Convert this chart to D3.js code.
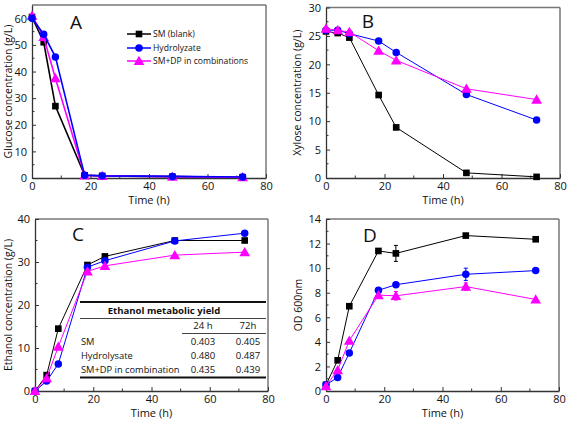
<!DOCTYPE html>
<html><head><meta charset="utf-8">
<script src="https://cdn.jsdelivr.net/npm/d3@7"></script>
<style>body{margin:0;background:#fff}svg{display:block}text{font-family:"Open Sans",sans-serif;fill:#111}</style>
</head><body><svg id="c" width="567" height="424"></svg>
<script>
const times = [0,4,8,18,24,48,72];
const seriesNames = ["SM (blank)","Hydrolyzate","SM+DP in combinations"];
const glucoseSM  = [60.5,51,27,1,0.8,0.5,0.3];
const glucoseHyd = [60,54,45.5,1,0.8,0.6,0.4];
const glucoseDP  = [61,53,37.5,1,0.8,0.5,0.3];
const xyloseSM  = [25.8,25.5,24.7,14.6,8.9,0.9,0.2];
const xyloseHyd = [26,26,25.4,24.1,22.1,14.7,10.2];
const xyloseDP  = [26.3,26.0,25.7,22.4,20.7,15.7,13.8];
const ethanolSM  = [0,3.7,14.5,29.3,31.3,35,35];
const ethanolHyd = [0,2.3,6.3,28.8,30.3,34.9,36.7];
const ethanolDP  = [0,3,10.3,27.8,29.1,31.6,32.3];
const odSM  = [0.5,2.5,6.9,11.4,11.2,12.65,12.35];
const odHyd = [0.5,1.1,3.1,8.2,8.65,9.5,9.8];
const odDP  = [0.4,1.7,4.1,7.8,7.75,8.5,7.45];
const odErrSM  = [0,0,0,0.15,0.65,0.1,0.1];
const odErrHyd = [0,0,0,0,0,0.5,0];
const odErrDP  = [0,0,0,0,0.35,0.3,0];
const tableTitle = "Ethanol metabolic yield";
const tableCols = ["24 h","72h"];
const tableRows = ["SM","Hydrolysate","SM+DP in combination"];
const table24 = ["0.403","0.480","0.435"];
const table72 = ["0.405","0.487","0.439"];

const colors = ["#000000","#0000ff","#ff00ff"];
const shapes = [d3.symbolSquare, d3.symbolCircle, d3.symbolTriangle];
const sizes = [44, 44, 50];
const svg = d3.select("#c");

function panel(o){
  const x = d3.scaleLinear().domain([0,80]).range([o.x0,o.x1]);
  const y = d3.scaleLinear().domain([0,o.ymax]).range([o.y1,o.y0]);
  const g = svg.append("g");
  g.append("line").attr("x1",o.x0).attr("x2",o.x1).attr("y1",o.y0).attr("y2",o.y0).attr("stroke","#777").attr("stroke-width",1.5);
  g.append("line").attr("x1",o.x1).attr("x2",o.x1).attr("y1",o.y0).attr("y2",o.y1).attr("stroke","#777").attr("stroke-width",1.5);
  const xa = g.append("g").attr("transform",`translate(0,${o.y1})`)
    .call(d3.axisBottom(x).tickValues([0,20,40,60,80]).tickSize(-4).tickPadding(4).tickSizeOuter(0));
  g.append("g").attr("transform",`translate(0,${o.y1})`).selectAll("line").data([10,30,50,70]).join("line")
    .attr("x1",d=>x(d)).attr("x2",d=>x(d)).attr("y1",0).attr("y2",-2.5).attr("stroke","#333");
  const ya = g.append("g").attr("transform",`translate(${o.x0},0)`)
    .call(d3.axisLeft(y).tickValues(d3.range(0,o.ymax+1e-9,o.ystep)).tickSize(-4).tickPadding(5).tickSizeOuter(0));
  g.append("g").attr("transform",`translate(${o.x0},0)`).selectAll("line")
    .data(d3.range(o.ystep/2,o.ymax,o.ystep)).join("line")
    .attr("x1",0).attr("x2",2.5).attr("y1",d=>y(d)).attr("y2",d=>y(d)).attr("stroke","#333");
  [xa,ya].forEach(a=>{
    a.select(".domain").attr("stroke","#333").attr("stroke-width",1.3);
    a.selectAll(".tick line").attr("stroke","#333");
    a.selectAll("text").style("font-size","11px").attr("fill","#111").style("font-family","'Open Sans',sans-serif");
  });
  ya.selectAll("text").attr("dy","0.34em");
  g.append("text").attr("x",(o.x0+o.x1)/2).attr("y",o.y1+26).attr("text-anchor","middle").style("font-size","11px").text("Time (h)");
  g.append("text").attr("transform",`translate(${o.tx},${(o.y0+o.y1)/2}) rotate(-90)`).attr("dy","0.35em").attr("text-anchor","middle").style("font-size","10.5px").text(o.ytitle);
  g.append("text").attr("x",o.lx).attr("y",o.ly).attr("text-anchor","middle").style("font-size","19px").text(o.letter);
  return {g,x,y};
}

function drawSeries(p, data, order, lw, errs){
  order.forEach(i=>{
    const vals = data[i];
    const line = d3.line().x((d,j)=>p.x(times[j])).y(d=>p.y(d));
    p.g.append("path").datum(vals).attr("d",line).attr("fill","none").attr("stroke",colors[i]).attr("stroke-width",lw);
    if(errs && errs[i]){
      p.g.selectAll(null).data(vals.map((v,j)=>[times[j],v,errs[i][j]]).filter(d=>d[2]>0)).join("g").each(function(d){
        const s=d3.select(this);
        s.append("line").attr("x1",p.x(d[0])).attr("x2",p.x(d[0])).attr("y1",p.y(d[1]-d[2])).attr("y2",p.y(d[1]+d[2])).attr("stroke",colors[i]);
        [d[1]-d[2],d[1]+d[2]].forEach(e=>s.append("line").attr("x1",p.x(d[0])-2).attr("x2",p.x(d[0])+2).attr("y1",p.y(e)).attr("y2",p.y(e)).attr("stroke",colors[i]));
      });
    }
    p.g.selectAll(null).data(vals).join("path")
      .attr("transform",(d,j)=>`translate(${p.x(times[j])},${p.y(d)+(i===2?1:0)})`)
      .attr("d",d3.symbol().type(shapes[i]).size(sizes[i])).attr("fill",colors[i]);
  });
}

const pA = panel({x0:32,x1:266,y0:5,y1:178,ymax:65,ystep:10,tx:8,ytitle:"Glucose concentration (g/L)",letter:"A",lx:76,ly:29});
drawSeries(pA,[glucoseSM,glucoseHyd,glucoseDP],[0,2,1],1.6);
const lg = pA.g.append("g");
seriesNames.forEach((n,i)=>{
  const yy = [34,48,61][i];
  lg.append("line").attr("x1",127).attr("x2",151).attr("y1",yy).attr("y2",yy).attr("stroke",colors[i]).attr("stroke-width",1.5);
  lg.append("path").attr("transform",`translate(139,${yy+(i===2?1:0)})`).attr("d",d3.symbol().type(shapes[i]).size(sizes[i])).attr("fill",colors[i]);
  lg.append("text").attr("x",153).attr("y",yy).attr("dy","0.35em").style("font-size","8.6px").text(n);
});

const pB = panel({x0:326,x1:560,y0:7.5,y1:178,ymax:30,ystep:5,tx:297,ytitle:"Xylose concentration (g/L)",letter:"B",lx:368,ly:28});
drawSeries(pB,[xyloseSM,xyloseHyd,xyloseDP],[0,1,2],1);

const pC = panel({x0:35,x1:268,y0:219,y1:391,ymax:40,ystep:10,tx:8,ytitle:"Ethanol concentration (g/L)",letter:"C",lx:78,ly:241});
drawSeries(pC,[ethanolSM,ethanolHyd,ethanolDP],[0,1,2],1);
const tg = pC.g.append("g");
tg.append("line").attr("x1",80).attr("x2",266).attr("y1",302).attr("y2",302).attr("stroke","#111").attr("stroke-width",1.8);
tg.append("text").attr("x",164).attr("y",311).attr("dy","0.35em").attr("text-anchor","middle").style("font-size","9.6px").style("font-weight","bold").text(tableTitle);
tg.append("line").attr("x1",80).attr("x2",266).attr("y1",318.5).attr("y2",318.5).attr("stroke","#111").attr("stroke-width",0.8);
const colX=[203,248];
tableCols.forEach((c,i)=>tg.append("text").attr("x",colX[i]).attr("y",325.5).attr("dy","0.35em").attr("text-anchor","middle").style("font-size","9.6px").text(c));
tg.append("line").attr("x1",182).attr("x2",266).attr("y1",333.5).attr("y2",333.5).attr("stroke","#111").attr("stroke-width",0.8);
tableRows.forEach((r,i)=>{
  const yy=[341.5,355.5,369.5][i];
  tg.append("text").attr("x",81).attr("y",yy).attr("dy","0.35em").style("font-size","9.3px").text(r);
  tg.append("text").attr("x",colX[0]).attr("y",yy).attr("dy","0.35em").attr("text-anchor","middle").style("font-size","9.6px").text(table24[i]);
  tg.append("text").attr("x",colX[1]).attr("y",yy).attr("dy","0.35em").attr("text-anchor","middle").style("font-size","9.6px").text(table72[i]);
});
tg.append("line").attr("x1",80).attr("x2",266).attr("y1",377.5).attr("y2",377.5).attr("stroke","#111").attr("stroke-width",1.8);

const pD = panel({x0:326,x1:559,y0:219,y1:391,ymax:14,ystep:2,tx:298,ytitle:"OD 600nm",letter:"D",lx:370,ly:242});
drawSeries(pD,[odSM,odHyd,odDP],[0,1,2],1,[odErrSM,odErrHyd,odErrDP]);
</script></body></html>
